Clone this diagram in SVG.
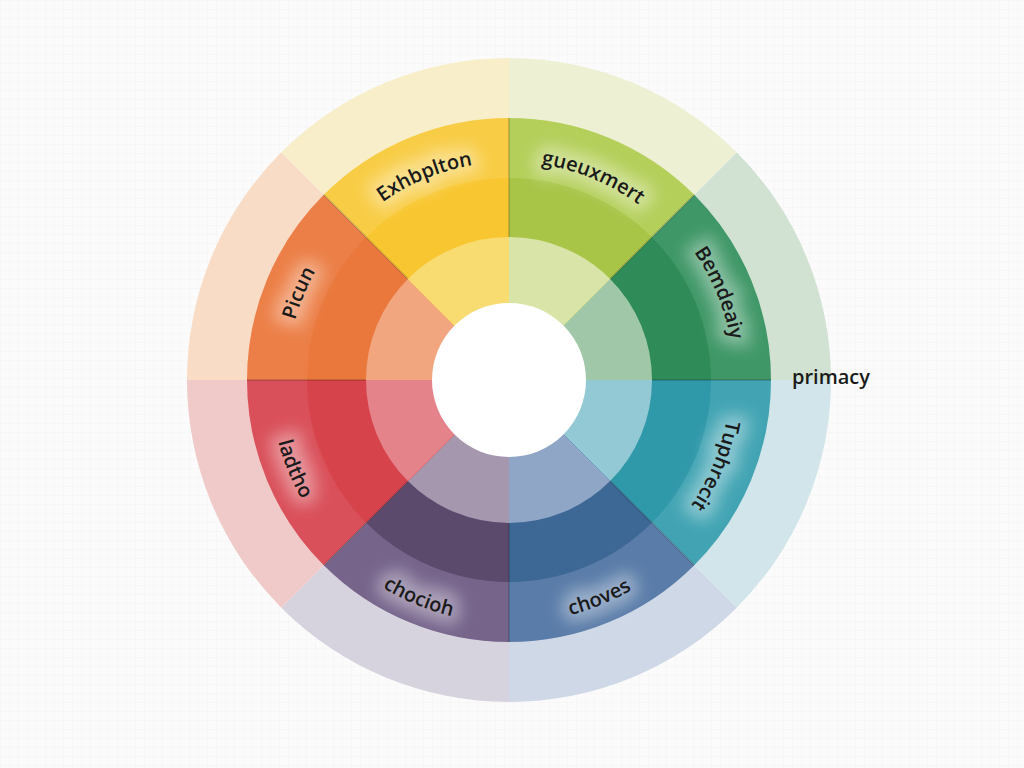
<svg xmlns="http://www.w3.org/2000/svg" width="1024" height="768" viewBox="0 0 1024 768">
  <defs>
    <pattern id="grid" width="9" height="9" patternUnits="userSpaceOnUse">
      <path d="M9 0H0V9" fill="none" stroke="#efefef" stroke-width="0.6"/>
    </pattern>
    <filter id="blur" x="-50%" y="-50%" width="200%" height="200%">
      <feGaussianBlur stdDeviation="8"/>
    </filter>
    <path id="pYellow" d="M354.85,225.85 A218,218 0 0 1 509,162"/>
    <path id="pLime" d="M509,162 A218,218 0 0 1 663.15,225.85"/>
    <path id="pGreen" d="M668.1,220.9 A225,225 0 0 1 734,380"/>
    <path id="pTeal" d="M730,380 A221,221 0 0 1 665.27,536.27"/>
    <path id="pBlue" d="M509,623 A243,243 0 0 0 680.83,551.83"/>
    <path id="pPurple" d="M337.17,551.83 A243,243 0 0 0 509,623"/>
    <path id="pRed" d="M270,380 A239,239 0 0 0 340,549"/>
    <path id="pOrange" d="M287,380 A222,222 0 0 1 352.02,223.02"/>
  </defs>
  <style>
    .lbl { font-family: "Open Sans", "Noto Sans", sans-serif; font-size: 20px; font-weight: 600; fill: #1a1a1a; }
    .glow { font-family: "Open Sans", "Noto Sans", sans-serif; font-size: 20px; font-weight: 600; fill: #ffffff; stroke: #ffffff; stroke-width: 16; opacity: 0.4; filter: url(#blur); }
    .div { stroke: #000000; stroke-opacity: 0.2; stroke-width: 1.5; }
    .plain { font-family: "Open Sans", "Noto Sans", sans-serif; font-size: 20px; font-weight: 600; fill: #1a1a1a; }
  </style>

  <rect width="1024" height="768" fill="#fbfbfb"/>
  <rect width="1024" height="768" fill="url(#grid)"/>

  <g id="sector-green">
    <path d="M509,380 L736.688,152.312 A322,322 0 0 1 831,380 Z" fill="#d1e2d2"/>
    <path d="M509,380 L694.262,194.738 A262,262 0 0 1 771,380 Z" fill="#3f9767"/>
    <path d="M509,380 L651.836,237.164 A202,202 0 0 1 711,380 Z" fill="#2f8b58"/>
    <path d="M509,380 L610.116,278.884 A143,143 0 0 1 652,380 Z" fill="#a0c8a8"/>
    <text class="glow"><textPath href="#pGreen" startOffset="50%" text-anchor="middle">Bemdeaiy</textPath></text>
    <text class="lbl"><textPath href="#pGreen" startOffset="50%" text-anchor="middle">Bemdeaiy</textPath></text>
  </g>

  <g id="sector-teal">
    <path d="M509,380 L831,380 A322,322 0 0 1 736.688,607.688 Z" fill="#d1e5ea"/>
    <path d="M509,380 L771,380 A262,262 0 0 1 694.262,565.262 Z" fill="#42a4b3"/>
    <path d="M509,380 L711,380 A202,202 0 0 1 651.836,522.836 Z" fill="#2f98a9"/>
    <path d="M509,380 L652,380 A143,143 0 0 1 610.116,481.116 Z" fill="#92c9d4"/>
    <text class="glow"><textPath href="#pTeal" startOffset="50%" text-anchor="middle">Tuphrecit</textPath></text>
    <text class="lbl"><textPath href="#pTeal" startOffset="50%" text-anchor="middle">Tuphrecit</textPath></text>
  </g>

  <g id="sector-blue">
    <path d="M509,380 L736.688,607.688 A322,322 0 0 1 509,702 Z" fill="#cfd8e6"/>
    <path d="M509,380 L694.262,565.262 A262,262 0 0 1 509,642 Z" fill="#5a7ca8"/>
    <path d="M509,380 L651.836,522.836 A202,202 0 0 1 509,582 Z" fill="#3d6794"/>
    <path d="M509,380 L610.116,481.116 A143,143 0 0 1 509,523 Z" fill="#8fa6c6"/>
    <text class="glow"><textPath href="#pBlue" startOffset="50%" text-anchor="middle">choves</textPath></text>
    <text class="lbl"><textPath href="#pBlue" startOffset="50%" text-anchor="middle">choves</textPath></text>
  </g>

  <g id="sector-purple">
    <path d="M509,380 L509,702 A322,322 0 0 1 281.312,607.688 Z" fill="#d6d3de"/>
    <path d="M509,380 L509,642 A262,262 0 0 1 323.738,565.262 Z" fill="#76648b"/>
    <path d="M509,380 L509,582 A202,202 0 0 1 366.164,522.836 Z" fill="#5c4a6d"/>
    <path d="M509,380 L509,523 A143,143 0 0 1 407.884,481.116 Z" fill="#a497ae"/>
    <text class="glow"><textPath href="#pPurple" startOffset="50%" text-anchor="middle">chocioh</textPath></text>
    <text class="lbl"><textPath href="#pPurple" startOffset="50%" text-anchor="middle">chocioh</textPath></text>
  </g>

  <g id="sector-red">
    <path d="M509,380 L281.312,607.688 A322,322 0 0 1 187,380 Z" fill="#efcac8"/>
    <path d="M509,380 L323.738,565.262 A262,262 0 0 1 247,380 Z" fill="#d9505a"/>
    <path d="M509,380 L366.164,522.836 A202,202 0 0 1 307,380 Z" fill="#d7434b"/>
    <path d="M509,380 L407.884,481.116 A143,143 0 0 1 366,380 Z" fill="#e4838a"/>
    <text class="glow"><textPath href="#pRed" startOffset="50%" text-anchor="middle">ladtho</textPath></text>
    <text class="lbl"><textPath href="#pRed" startOffset="50%" text-anchor="middle">ladtho</textPath></text>
  </g>

  <g id="sector-orange">
    <path d="M509,380 L187,380 A322,322 0 0 1 281.312,152.312 Z" fill="#f8dcc6"/>
    <path d="M509,380 L247,380 A262,262 0 0 1 323.738,194.738 Z" fill="#ec7f47"/>
    <path d="M509,380 L307,380 A202,202 0 0 1 366.164,237.164 Z" fill="#ea783d"/>
    <path d="M509,380 L366,380 A143,143 0 0 1 407.884,278.884 Z" fill="#f1a680"/>
    <text class="glow"><textPath href="#pOrange" startOffset="50%" text-anchor="middle">Picun</textPath></text>
    <text class="lbl"><textPath href="#pOrange" startOffset="50%" text-anchor="middle">Picun</textPath></text>
  </g>

  <g id="sector-yellow">
    <path d="M509,380 L281.312,152.312 A322,322 0 0 1 509,58 Z" fill="#f8eec9"/>
    <path d="M509,380 L323.738,194.738 A262,262 0 0 1 509,118 Z" fill="#f8cc45"/>
    <path d="M509,380 L366.164,237.164 A202,202 0 0 1 509,178 Z" fill="#f8c630"/>
    <path d="M509,380 L407.884,278.884 A143,143 0 0 1 509,237 Z" fill="#f8dc72"/>
    <text class="glow"><textPath href="#pYellow" startOffset="50%" text-anchor="middle">Exhbplton</textPath></text>
    <text class="lbl"><textPath href="#pYellow" startOffset="50%" text-anchor="middle">Exhbplton</textPath></text>
  </g>

  <g id="sector-lime">
    <path d="M509,380 L509,58 A322,322 0 0 1 736.688,152.312 Z" fill="#eef0d4"/>
    <path d="M509,380 L509,118 A262,262 0 0 1 694.262,194.738 Z" fill="#b4cf5a"/>
    <path d="M509,380 L509,178 A202,202 0 0 1 651.836,237.164 Z" fill="#a8c548"/>
    <path d="M509,380 L509,237 A143,143 0 0 1 610.116,278.884 Z" fill="#d8e4a8"/>
    <text class="glow"><textPath href="#pLime" startOffset="50%" text-anchor="middle">gueuxmert</textPath></text>
    <text class="lbl"><textPath href="#pLime" startOffset="50%" text-anchor="middle">gueuxmert</textPath></text>
  </g>

  <g id="dividers">
    <line class="div" x1="652" y1="380" x2="771" y2="380"/>
    <line class="div" x1="610.116" y1="481.116" x2="694.262" y2="565.262"/>
    <line class="div" x1="509" y1="523" x2="509" y2="642"/>
    <line class="div" x1="407.884" y1="481.116" x2="323.738" y2="565.262"/>
    <line class="div" x1="366" y1="380" x2="247" y2="380"/>
    <line class="div" x1="407.884" y1="278.884" x2="323.738" y2="194.738"/>
    <line class="div" x1="509" y1="237" x2="509" y2="118"/>
    <line class="div" x1="610.116" y1="278.884" x2="694.262" y2="194.738"/>
  </g>

  <g id="hub">
    <circle cx="509" cy="380" r="77" fill="#ffffff"/>
  </g>

  <g id="label-primacy">
    <text class="plain" x="792" y="384">primacy</text>
  </g>
</svg>
